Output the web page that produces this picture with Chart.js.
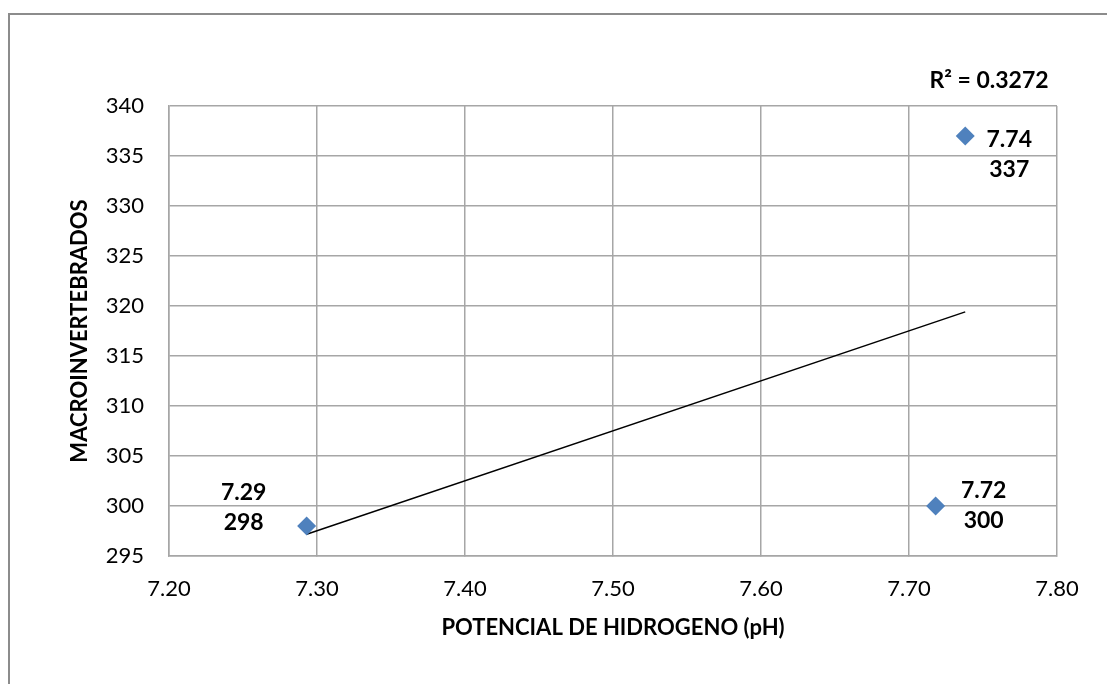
<!DOCTYPE html>
<html>
<head>
<meta charset="utf-8">
<script src="https://cdn.jsdelivr.net/npm/chart.js@4.4.1/dist/chart.umd.min.js"></script>
<style>
  html, body { margin: 0; padding: 0; background: #fff; overflow: hidden; }
  #wrap { position: relative; width: 1107px; height: 684px; }
  #frame { position: absolute; left: 8px; top: 13px; width: 1200px; height: 800px; border: 2px solid #8c8c8c; box-sizing: border-box; }
  canvas { position: absolute; left: 0; top: 0; }
</style>
</head>
<body>
<div id="wrap">
  <div id="frame"></div>
  <canvas id="phChart" width="1107" height="684"></canvas>
</div>
<script>
// data
var phValues = [7.293, 7.738, 7.718];
var macroValues = [298, 337, 300];
var phLabels = ['7.29', '7.74', '7.72'];
var xTicks = [7.20, 7.30, 7.40, 7.50, 7.60, 7.70, 7.80];
var yTicks = [295, 300, 305, 310, 315, 320, 325, 330, 335, 340];
var rSquared = 'R² = 0.3272';

var pointBlue = '#4F81BD';
var gridGray = '#a6a6a6';
var font = 'Lato, "Open Sans", sans-serif';

// linear trendline (least squares) across the data range
var n = phValues.length, sx = 0, sy = 0, sxy = 0, sxx = 0;
for (var i = 0; i < n; i++) {
  sx += phValues[i]; sy += macroValues[i];
  sxy += phValues[i] * macroValues[i]; sxx += phValues[i] * phValues[i];
}
var slope = (n * sxy - sx * sy) / (n * sxx - sx * sx);
var intercept = (sy - slope * sx) / n;
var xLo = Math.min.apply(null, phValues), xHi = Math.max.apply(null, phValues);
var trend = [{x: xLo, y: intercept + slope * xLo}, {x: xHi, y: intercept + slope * xHi}];

var points = phValues.map(function (v, i) { return {x: v, y: macroValues[i]}; });

// label offsets from each point: [dx, dy of first line]
var labelPlace = [[-63, -33], [44, 4], [48, -15]];

var labelPlugin = {
  id: 'labels',
  afterDatasetsDraw: function (chart) {
    var c = chart.ctx, xs = chart.scales.x, ys = chart.scales.y;
    c.save();
    c.fillStyle = '#000';
    c.font = 'bold 23px ' + font;
    c.textAlign = 'center';
    c.textBaseline = 'middle';
    points.forEach(function (p, i) {
      var px = xs.getPixelForValue(p.x), py = ys.getPixelForValue(p.y);
      var pl = labelPlace[i];
      c.fillText(phLabels[i], px + pl[0], py + pl[1]);
      c.fillText(String(macroValues[i]), px + pl[0], py + pl[1] + 30);
    });
    c.fillText(rSquared, 989, 81);
    c.restore();
  }
};

new Chart(document.getElementById('phChart'), {
  type: 'scatter',
  data: {
    datasets: [{
      data: points,
      pointStyle: 'rectRot',
      pointRadius: 9.5,
      pointHoverRadius: 9.5,
      backgroundColor: pointBlue,
      borderColor: pointBlue,
      borderWidth: 0
    }, {
      data: trend,
      showLine: true,
      borderColor: '#000',
      borderWidth: 1.5,
      pointRadius: 0,
      fill: false
    }]
  },
  options: {
    responsive: false,
    animation: false,
    events: [],
    layout: { padding: { left: 67, top: 106, right: 50, bottom: 43 } },
    plugins: { legend: { display: false }, tooltip: { enabled: false } },
    scales: {
      x: {
        type: 'linear',
        min: 7.2, max: 7.8,
        afterBuildTicks: function (s) { s.ticks = xTicks.map(function (v) { return {value: v}; }); },
        afterFit: function (s) { s.height = 85; },
        ticks: { color: '#000', font: { family: font, size: 22 }, padding: 20,
                 callback: function (v) { return Number(v).toFixed(2); } },
        grid: { color: gridGray, lineWidth: 1.5, tickLength: 0 },
        border: { color: gridGray, width: 1.5 },
        title: { display: true, text: 'POTENCIAL DE HIDROGENO (pH)', color: '#000',
                 font: { family: font, size: 22, weight: 'bold' }, padding: { top: 4, bottom: 0 } }
      },
      y: {
        type: 'linear',
        min: 295, max: 340,
        afterBuildTicks: function (s) { s.ticks = yTicks.map(function (v) { return {value: v}; }); },
        afterFit: function (s) { s.width = 102; },
        ticks: { color: '#000', font: { family: font, size: 22 }, padding: 25 },
        grid: { color: gridGray, lineWidth: 1.5, tickLength: 0 },
        border: { color: gridGray, width: 1.5 },
        title: { display: true, text: 'MACROINVERTEBRADOS', color: '#000',
                 font: { family: font, size: 22, weight: 'bold' }, padding: 0 }
      }
    }
  },
  plugins: [labelPlugin]
});
</script>
</body>
</html>
